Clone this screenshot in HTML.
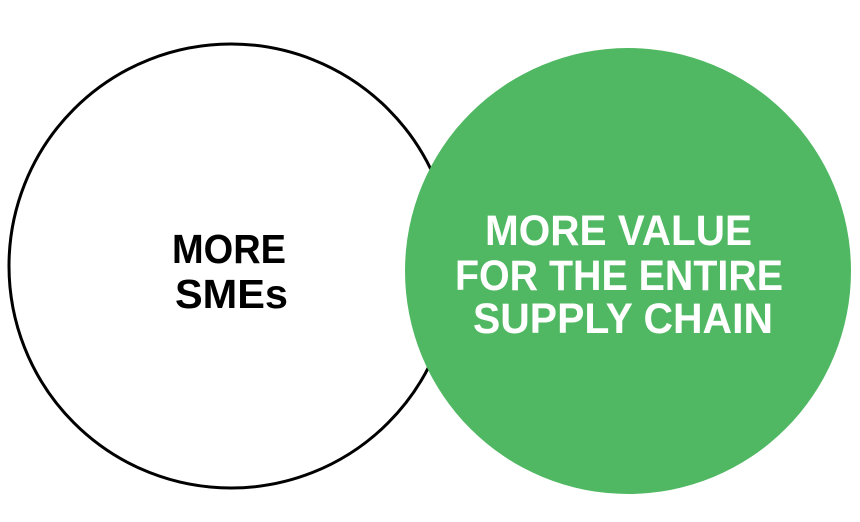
<!DOCTYPE html>
<html><head><meta charset="utf-8"><style>html,body{margin:0;padding:0;background:#fff;width:860px;height:522px;overflow:hidden}</style></head>
<body>
<svg width="860" height="522" viewBox="0 0 860 522" xmlns="http://www.w3.org/2000/svg">
<circle cx="231" cy="266" r="222" fill="#fff" stroke="#000" stroke-width="3"/>
<circle cx="628" cy="271" r="223" fill="#50b862"/>
<g font-family="Liberation Sans, Arial, sans-serif" font-weight="bold">
<text x="172" y="263" font-size="41" textLength="114" lengthAdjust="spacingAndGlyphs" fill="#000">MORE</text>
<text x="175" y="308" font-size="41" textLength="113" lengthAdjust="spacingAndGlyphs" fill="#000">SMEs</text>
<text x="485" y="245" font-size="43" textLength="267" lengthAdjust="spacingAndGlyphs" fill="#fff">MORE VALUE</text>
<text x="455" y="290" font-size="43" textLength="328" lengthAdjust="spacingAndGlyphs" fill="#fff">FOR THE ENTIRE</text>
<text x="473" y="333" font-size="43" textLength="300" lengthAdjust="spacingAndGlyphs" fill="#fff">SUPPLY CHAIN</text>
</g>
</svg>
</body></html>
